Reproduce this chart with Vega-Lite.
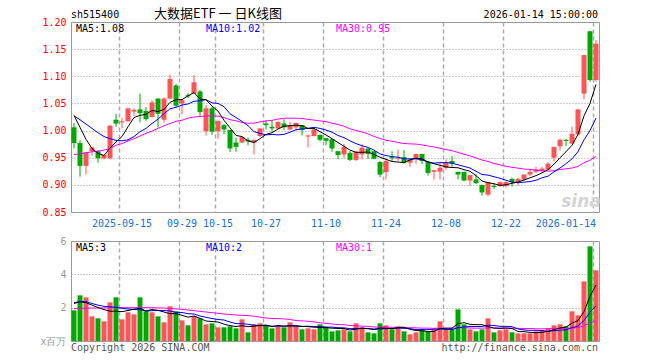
{
 "$schema": "https://vega.github.io/schema/vega-lite/v6.json",
 "padding": {"left": 30, "top": 7, "right": 0, "bottom": 0},
 "background": "white",
 "config": {
  "view": {"stroke": "#999999", "strokeWidth": 1},
  "font": "DejaVu Sans Mono",
  "axis": {"labelFont": "DejaVu Sans Mono", "labelFontSize": 10, "ticks": false, "domain": false, "title": null, "labelOverlap": false}
 },
 "data": {"values": [
  {"d":"2025-09-03","o":1.006,"h":1.014,"l":0.967,"c":0.977,"m5":1.028,"m10":1.027,"m30":0.956,"v":1.84,"vm5":2.25,"vm10":2.30,"vm30":1.95},
  {"d":"2025-09-04","o":0.977,"h":0.982,"l":0.915,"c":0.935,"m5":1.006,"m10":1.020,"m30":0.957,"v":2.74,"vm5":2.35,"vm10":2.38,"vm30":1.96},
  {"d":"2025-09-05","o":0.935,"h":0.961,"l":0.919,"c":0.960,"m5":0.984,"m10":1.012,"m30":0.959,"v":2.62,"vm5":2.30,"vm10":2.36,"vm30":1.97},
  {"d":"2025-09-08","o":0.962,"h":0.970,"l":0.954,"c":0.969,"m5":0.967,"m10":1.004,"m30":0.961,"v":1.48,"vm5":2.15,"vm10":2.25,"vm30":1.98},
  {"d":"2025-09-09","o":0.962,"h":0.964,"l":0.941,"c":0.949,"m5":0.958,"m10":0.996,"m30":0.962,"v":1.36,"vm5":2.01,"vm10":2.15,"vm30":1.98},
  {"d":"2025-09-10","o":0.949,"h":0.956,"l":0.947,"c":0.955,"m5":0.954,"m10":0.989,"m30":0.964,"v":1.18,"vm5":1.88,"vm10":2.08,"vm30":1.98},
  {"d":"2025-09-11","o":0.949,"h":1.010,"l":0.947,"c":1.009,"m5":0.968,"m10":0.985,"m30":0.967,"v":2.32,"vm5":1.79,"vm10":2.05,"vm30":1.99},
  {"d":"2025-09-12","o":1.020,"h":1.031,"l":1.007,"c":1.013,"m5":0.979,"m10":0.982,"m30":0.973,"v":2.62,"vm5":1.79,"vm10":2.02,"vm30":2.00},
  {"d":"2025-09-15","o":1.015,"h":1.023,"l":1.004,"c":1.017,"m5":0.989,"m10":0.981,"m30":0.976,"v":1.30,"vm5":1.76,"vm10":1.96,"vm30":2.00},
  {"d":"2025-09-16","o":1.017,"h":1.041,"l":1.016,"c":1.041,"m5":1.007,"m10":0.983,"m30":0.981,"v":1.72,"vm5":1.83,"vm10":1.92,"vm30":2.00},
  {"d":"2025-09-17","o":1.035,"h":1.041,"l":1.027,"c":1.038,"m5":1.024,"m10":0.989,"m30":0.985,"v":1.60,"vm5":1.91,"vm10":1.89,"vm30":2.00},
  {"d":"2025-09-18","o":1.039,"h":1.068,"l":1.015,"c":1.032,"m5":1.028,"m10":0.998,"m30":0.990,"v":2.62,"vm5":1.97,"vm10":1.88,"vm30":2.00},
  {"d":"2025-09-19","o":1.036,"h":1.043,"l":1.018,"c":1.021,"m5":1.030,"m10":1.004,"m30":0.995,"v":1.78,"vm5":1.80,"vm10":1.80,"vm30":2.00},
  {"d":"2025-09-22","o":1.025,"h":1.056,"l":1.024,"c":1.052,"m5":1.037,"m10":1.013,"m30":0.999,"v":1.72,"vm5":1.89,"vm10":1.82,"vm30":2.00},
  {"d":"2025-09-23","o":1.059,"h":1.059,"l":1.006,"c":1.031,"m5":1.035,"m10":1.021,"m30":1.004,"v":1.48,"vm5":1.84,"vm10":1.83,"vm30":1.99},
  {"d":"2025-09-24","o":1.020,"h":1.061,"l":1.015,"c":1.059,"m5":1.039,"m10":1.031,"m30":1.009,"v":1.12,"vm5":1.74,"vm10":1.83,"vm30":1.98},
  {"d":"2025-09-25","o":1.059,"h":1.103,"l":1.057,"c":1.095,"m5":1.052,"m10":1.040,"m30":1.013,"v":2.08,"vm5":1.64,"vm10":1.80,"vm30":1.96},
  {"d":"2025-09-26","o":1.083,"h":1.086,"l":1.043,"c":1.046,"m5":1.057,"m10":1.043,"m30":1.017,"v":1.78,"vm5":1.64,"vm10":1.72,"vm30":1.93},
  {"d":"2025-09-29","o":1.050,"h":1.058,"l":1.030,"c":1.056,"m5":1.057,"m10":1.047,"m30":1.019,"v":1.24,"vm5":1.54,"vm10":1.71,"vm30":1.90},
  {"d":"2025-09-30","o":1.065,"h":1.069,"l":1.060,"c":1.063,"m5":1.064,"m10":1.049,"m30":1.023,"v":0.94,"vm5":1.43,"vm10":1.64,"vm30":1.86},
  {"d":"2025-10-09","o":1.068,"h":1.102,"l":1.068,"c":1.089,"m5":1.070,"m10":1.054,"m30":1.025,"v":1.48,"vm5":1.50,"vm10":1.62,"vm30":1.82},
  {"d":"2025-10-10","o":1.072,"h":1.075,"l":1.026,"c":1.034,"m5":1.058,"m10":1.055,"m30":1.026,"v":1.36,"vm5":1.36,"vm10":1.50,"vm30":1.78},
  {"d":"2025-10-13","o":0.999,"h":1.047,"l":0.991,"c":1.041,"m5":1.057,"m10":1.057,"m30":1.027,"v":1.00,"vm5":1.20,"vm10":1.42,"vm30":1.74},
  {"d":"2025-10-14","o":1.041,"h":1.044,"l":0.992,"c":0.998,"m5":1.045,"m10":1.051,"m30":1.027,"v":1.06,"vm5":1.17,"vm10":1.35,"vm30":1.70},
  {"d":"2025-10-15","o":0.999,"h":1.018,"l":0.985,"c":1.018,"m5":1.036,"m10":1.050,"m30":1.0265,"v":0.82,"vm5":1.14,"vm10":1.29,"vm30":1.66},
  {"d":"2025-10-16","o":1.010,"h":1.012,"l":0.993,"c":1.002,"m5":1.019,"m10":1.044,"m30":1.024,"v":0.82,"vm5":1.01,"vm10":1.26,"vm30":1.62},
  {"d":"2025-10-17","o":1.001,"h":1.001,"l":0.961,"c":0.967,"m5":1.005,"m10":1.031,"m30":1.020,"v":0.88,"vm5":0.92,"vm10":1.14,"vm30":1.59},
  {"d":"2025-10-20","o":0.978,"h":0.987,"l":0.961,"c":0.970,"m5":0.991,"m10":1.024,"m30":1.018,"v":0.76,"vm5":0.87,"vm10":1.04,"vm30":1.56},
  {"d":"2025-10-21","o":0.978,"h":0.989,"l":0.977,"c":0.988,"m5":0.989,"m10":1.017,"m30":1.015,"v":1.30,"vm5":0.92,"vm10":1.04,"vm30":1.54},
  {"d":"2025-10-22","o":0.983,"h":0.987,"l":0.973,"c":0.980,"m5":0.981,"m10":1.009,"m30":1.0135,"v":0.52,"vm5":0.86,"vm10":1.00,"vm30":1.52},
  {"d":"2025-10-23","o":0.978,"h":0.983,"l":0.956,"c":0.983,"m5":0.978,"m10":0.998,"m30":1.0137,"v":1.00,"vm5":0.89,"vm10":0.95,"vm30":1.49},
  {"d":"2025-10-24","o":0.990,"h":1.004,"l":0.988,"c":1.004,"m5":0.985,"m10":0.995,"m30":1.016,"v":1.06,"vm5":0.93,"vm10":0.92,"vm30":1.43},
  {"d":"2025-10-27","o":1.013,"h":1.019,"l":1.002,"c":1.010,"m5":0.993,"m10":0.992,"m30":1.0177,"v":0.94,"vm5":0.96,"vm10":0.92,"vm30":1.38},
  {"d":"2025-10-28","o":1.007,"h":1.019,"l":0.998,"c":1.004,"m5":0.996,"m10":0.993,"m30":1.0188,"v":0.76,"vm5":0.86,"vm10":0.89,"vm30":1.35},
  {"d":"2025-10-29","o":1.004,"h":1.017,"l":1.003,"c":1.016,"m5":1.003,"m10":0.992,"m30":1.0211,"v":0.88,"vm5":0.93,"vm10":0.89,"vm30":1.34},
  {"d":"2025-10-30","o":1.013,"h":1.021,"l":1.001,"c":1.006,"m5":1.008,"m10":0.993,"m30":1.0228,"v":0.82,"vm5":0.89,"vm10":0.89,"vm30":1.33},
  {"d":"2025-10-31","o":1.002,"h":1.016,"l":1.000,"c":1.010,"m5":1.009,"m10":0.997,"m30":1.0228,"v":1.12,"vm5":0.90,"vm10":0.92,"vm30":1.29},
  {"d":"2025-11-03","o":1.006,"h":1.015,"l":1.000,"c":1.014,"m5":1.010,"m10":1.0015,"m30":1.0228,"v":0.88,"vm5":0.89,"vm10":0.93,"vm30":1.23},
  {"d":"2025-11-04","o":1.010,"h":1.010,"l":0.991,"c":1.001,"m5":1.009,"m10":1.003,"m30":1.0223,"v":0.70,"vm5":0.88,"vm10":0.87,"vm30":1.21},
  {"d":"2025-11-05","o":0.989,"h":0.992,"l":0.969,"c":0.991,"m5":1.004,"m10":1.004,"m30":1.0206,"v":0.76,"vm5":0.86,"vm10":0.89,"vm30":1.18},
  {"d":"2025-11-06","o":0.990,"h":1.003,"l":0.989,"c":1.002,"m5":1.004,"m10":1.006,"m30":1.0194,"v":0.70,"vm5":0.83,"vm10":0.86,"vm30":1.15},
  {"d":"2025-11-07","o":0.992,"h":0.993,"l":0.980,"c":0.983,"m5":0.998,"m10":1.004,"m30":1.0178,"v":1.00,"vm5":0.81,"vm10":0.86,"vm30":1.09},
  {"d":"2025-11-10","o":0.986,"h":0.986,"l":0.973,"c":0.981,"m5":0.992,"m10":1.001,"m30":1.0165,"v":0.82,"vm5":0.80,"vm10":0.84,"vm30":1.06},
  {"d":"2025-11-11","o":0.984,"h":0.985,"l":0.961,"c":0.967,"m5":0.985,"m10":0.997,"m30":1.0136,"v":0.58,"vm5":0.77,"vm10":0.83,"vm30":1.02},
  {"d":"2025-11-12","o":0.962,"h":0.962,"l":0.947,"c":0.955,"m5":0.978,"m10":0.991,"m30":1.0111,"v":0.64,"vm5":0.75,"vm10":0.80,"vm30":0.99},
  {"d":"2025-11-13","o":0.956,"h":0.975,"l":0.949,"c":0.970,"m5":0.971,"m10":0.987,"m30":1.0081,"v":0.70,"vm5":0.75,"vm10":0.79,"vm30":0.98},
  {"d":"2025-11-14","o":0.959,"h":0.962,"l":0.944,"c":0.946,"m5":0.964,"m10":0.981,"m30":1.0032,"v":0.58,"vm5":0.66,"vm10":0.74,"vm30":0.93},
  {"d":"2025-11-17","o":0.946,"h":0.962,"l":0.944,"c":0.961,"m5":0.960,"m10":0.976,"m30":1.0003,"v":1.06,"vm5":0.71,"vm10":0.75,"vm30":0.91},
  {"d":"2025-11-18","o":0.956,"h":0.975,"l":0.947,"c":0.9685,"m5":0.960,"m10":0.972,"m30":0.9974,"v":0.82,"vm5":0.76,"vm10":0.77,"vm30":0.89},
  {"d":"2025-11-19","o":0.967,"h":0.967,"l":0.948,"c":0.957,"m5":0.9605,"m10":0.969,"m30":0.9939,"v":0.52,"vm5":0.74,"vm10":0.74,"vm30":0.88},
  {"d":"2025-11-20","o":0.962,"h":0.962,"l":0.947,"c":0.948,"m5":0.956,"m10":0.964,"m30":0.9892,"v":0.46,"vm5":0.69,"vm10":0.72,"vm30":0.84},
  {"d":"2025-11-21","o":0.942,"h":0.944,"l":0.914,"c":0.919,"m5":0.951,"m10":0.957,"m30":0.9854,"v":1.06,"vm5":0.78,"vm10":0.72,"vm30":0.83},
  {"d":"2025-11-24","o":0.9235,"h":0.949,"l":0.910,"c":0.944,"m5":0.947,"m10":0.954,"m30":0.9821,"v":0.94,"vm5":0.76,"vm10":0.74,"vm30":0.83},
  {"d":"2025-11-25","o":0.951,"h":0.962,"l":0.944,"c":0.949,"m5":0.943,"m10":0.952,"m30":0.9805,"v":0.70,"vm5":0.74,"vm10":0.75,"vm30":0.82},
  {"d":"2025-11-26","o":0.948,"h":0.965,"l":0.944,"c":0.950,"m5":0.942,"m10":0.951,"m30":0.9782,"v":0.88,"vm5":0.81,"vm10":0.77,"vm30":0.82},
  {"d":"2025-11-27","o":0.951,"h":0.964,"l":0.939,"c":0.941,"m5":0.941,"m10":0.948,"m30":0.9762,"v":0.58,"vm5":0.83,"vm10":0.76,"vm30":0.81},
  {"d":"2025-11-28","o":0.941,"h":0.947,"l":0.933,"c":0.947,"m5":0.946,"m10":0.948,"m30":0.9755,"v":0.40,"vm5":0.70,"vm10":0.74,"vm30":0.80},
  {"d":"2025-12-01","o":0.949,"h":0.957,"l":0.939,"c":0.957,"m5":0.949,"m10":0.948,"m30":0.9751,"v":0.52,"vm5":0.62,"vm10":0.69,"vm30":0.79},
  {"d":"2025-12-02","o":0.957,"h":0.957,"l":0.938,"c":0.944,"m5":0.948,"m10":0.946,"m30":0.9736,"v":0.70,"vm5":0.62,"vm10":0.68,"vm30":0.77},
  {"d":"2025-12-03","o":0.943,"h":0.943,"l":0.917,"c":0.922,"m5":0.942,"m10":0.942,"m30":0.9717,"v":0.58,"vm5":0.56,"vm10":0.68,"vm30":0.77},
  {"d":"2025-12-04","o":0.924,"h":0.927,"l":0.910,"c":0.927,"m5":0.939,"m10":0.940,"m30":0.9698,"v":0.70,"vm5":0.58,"vm10":0.71,"vm30":0.76},
  {"d":"2025-12-05","o":0.9245,"h":0.941,"l":0.910,"c":0.9315,"m5":0.936,"m10":0.941,"m30":0.9674,"v":1.18,"vm5":0.74,"vm10":0.72,"vm30":0.77},
  {"d":"2025-12-08","o":0.9315,"h":0.947,"l":0.928,"c":0.941,"m5":0.933,"m10":0.941,"m30":0.9651,"v":0.70,"vm5":0.77,"vm10":0.69,"vm30":0.76},
  {"d":"2025-12-09","o":0.944,"h":0.953,"l":0.933,"c":0.939,"m5":0.932,"m10":0.940,"m30":0.9629,"v":0.70,"vm5":0.77,"vm10":0.69,"vm30":0.76},
  {"d":"2025-12-10","o":0.924,"h":0.924,"l":0.910,"c":0.919,"m5":0.9315,"m10":0.937,"m30":0.9597,"v":1.90,"vm5":1.04,"vm10":0.80,"vm30":0.79},
  {"d":"2025-12-11","o":0.924,"h":0.924,"l":0.907,"c":0.908,"m5":0.928,"m10":0.934,"m30":0.9564,"v":1.00,"vm5":1.10,"vm10":0.84,"vm30":0.80},
  {"d":"2025-12-12","o":0.908,"h":0.918,"l":0.898,"c":0.918,"m5":0.925,"m10":0.931,"m30":0.9534,"v":0.70,"vm5":1.00,"vm10":0.87,"vm30":0.78},
  {"d":"2025-12-15","o":0.910,"h":0.919,"l":0.902,"c":0.903,"m5":0.917,"m10":0.925,"m30":0.9497,"v":0.58,"vm5":0.98,"vm10":0.87,"vm30":0.77},
  {"d":"2025-12-16","o":0.900,"h":0.900,"l":0.880,"c":0.886,"m5":0.907,"m10":0.919,"m30":0.9458,"v":0.70,"vm5":0.98,"vm10":0.87,"vm30":0.77},
  {"d":"2025-12-17","o":0.882,"h":0.905,"l":0.879,"c":0.905,"m5":0.904,"m10":0.918,"m30":0.9430,"v":1.36,"vm5":0.87,"vm10":0.95,"vm30":0.79},
  {"d":"2025-12-18","o":0.898,"h":0.903,"l":0.892,"c":0.896,"m5":0.902,"m10":0.915,"m30":0.9395,"v":0.52,"vm5":0.77,"vm10":0.93,"vm30":0.79},
  {"d":"2025-12-19","o":0.898,"h":0.906,"l":0.896,"c":0.905,"m5":0.899,"m10":0.912,"m30":0.9369,"v":0.64,"vm5":0.76,"vm10":0.88,"vm30":0.77},
  {"d":"2025-12-22","o":0.898,"h":0.907,"l":0.895,"c":0.905,"m5":0.900,"m10":0.9085,"m30":0.9343,"v":0.70,"vm5":0.78,"vm10":0.88,"vm30":0.77},
  {"d":"2025-12-23","o":0.911,"h":0.913,"l":0.897,"c":0.905,"m5":0.903,"m10":0.905,"m30":0.9323,"v":0.52,"vm5":0.75,"vm10":0.86,"vm30":0.77},
  {"d":"2025-12-24","o":0.905,"h":0.913,"l":0.899,"c":0.911,"m5":0.905,"m10":0.904,"m30":0.9308,"v":0.46,"vm5":0.57,"vm10":0.72,"vm30":0.76},
  {"d":"2025-12-25","o":0.910,"h":0.919,"l":0.907,"c":0.919,"m5":0.909,"m10":0.905,"m30":0.9291,"v":0.46,"vm5":0.56,"vm10":0.66,"vm30":0.75},
  {"d":"2025-12-26","o":0.919,"h":0.928,"l":0.916,"c":0.924,"m5":0.913,"m10":0.906,"m30":0.9284,"v":0.46,"vm5":0.52,"vm10":0.64,"vm30":0.75},
  {"d":"2025-12-29","o":0.924,"h":0.933,"l":0.922,"c":0.928,"m5":0.917,"m10":0.9085,"m30":0.9273,"v":0.58,"vm5":0.50,"vm10":0.64,"vm30":0.73},
  {"d":"2025-12-30","o":0.926,"h":0.933,"l":0.923,"c":0.930,"m5":0.922,"m10":0.913,"m30":0.9260,"v":0.64,"vm5":0.52,"vm10":0.63,"vm30":0.73},
  {"d":"2025-12-31","o":0.928,"h":0.942,"l":0.928,"c":0.939,"m5":0.928,"m10":0.916,"m30":0.9254,"v":0.76,"vm5":0.58,"vm10":0.57,"vm30":0.74},
  {"d":"2026-01-05","o":0.950,"h":0.970,"l":0.943,"c":0.970,"m5":0.938,"m10":0.924,"m30":0.9261,"v":0.94,"vm5":0.68,"vm10":0.62,"vm30":0.75},
  {"d":"2026-01-06","o":0.971,"h":0.985,"l":0.963,"c":0.983,"m5":0.950,"m10":0.931,"m30":0.9283,"v":1.00,"vm5":0.78,"vm10":0.65,"vm30":0.75},
  {"d":"2026-01-07","o":0.983,"h":0.984,"l":0.971,"c":0.981,"m5":0.961,"m10":0.939,"m30":0.9295,"v":0.88,"vm5":0.84,"vm10":0.67,"vm30":0.75},
  {"d":"2026-01-08","o":0.976,"h":1.007,"l":0.976,"c":0.994,"m5":0.973,"m10":0.948,"m30":0.9310,"v":1.78,"vm5":1.07,"vm10":0.80,"vm30":0.78},
  {"d":"2026-01-09","o":0.993,"h":1.040,"l":0.991,"c":1.039,"m5":0.993,"m10":0.961,"m30":0.9340,"v":1.54,"vm5":1.23,"vm10":0.90,"vm30":0.81},
  {"d":"2026-01-12","o":1.068,"h":1.140,"l":1.058,"c":1.139,"m5":1.027,"m10":0.983,"m30":0.9406,"v":3.58,"vm5":1.76,"vm10":1.22,"vm30":0.91},
  {"d":"2026-01-13","o":1.183,"h":1.183,"l":1.090,"c":1.093,"m5":1.050,"m10":1.000,"m30":0.9455,"v":5.68,"vm5":2.69,"vm10":1.74,"vm30":1.08},
  {"d":"2026-01-14","o":1.093,"h":1.167,"l":1.090,"c":1.160,"m5":1.085,"m10":1.023,"m30":0.9523,"v":4.24,"vm5":3.36,"vm10":2.10,"vm30":1.21}
 ]},
 "spacing": 29,
 "bounds": "flush",
 "resolve": {"scale": {"y": "independent"}},
 "vconcat": [
  {
   "width": 528, "height": 190,
   "layer": [
    {"mark": {"type": "rule", "strokeWidth": 1},
     "encoding": {
      "x": {"field": "d", "type": "ordinal", "scale": {"paddingInner": 0, "paddingOuter": 0},
       "axis": {"values": ["2025-09-15","2025-09-29","2025-10-15","2025-10-27","2025-11-10","2025-11-24","2025-12-08","2025-12-22","2026-01-14"],
        "bandPosition": 0, "grid": true, "gridColor": "#aaaaaa", "gridDash": [4,3], "gridWidth": 1.5,
        "labelColor": "#1a6fcf", "labelPadding": 6, "labelAngle": 0, "labelOverlap": false, "labelFlush": false,
        "labelExpr": "datum.value == '2025-09-15' || datum.value == '2026-01-14' ? datum.value : slice(datum.value, 5)",
        "labelAlign": {"condition": {"test": "datum.value == '2026-01-14'", "value": "right"}, "value": "center"}}},
      "y": {"field": "l", "type": "quantitative", "scale": {"domain": [0.85, 1.2], "zero": false, "nice": false},
       "axis": {"values": [0.85,0.9,0.95,1.0,1.05,1.1,1.15,1.2], "tickCount": 20, "format": ".2f", "labelColor": "#ff0000", "labelOverlap": false, "labelFlush": false,
        "grid": true, "gridColor": "#999999", "gridDash": [1,2], "labelPadding": 5, "minExtent": 40, "maxExtent": 40}},
      "y2": {"field": "h"},
      "color": {"condition": {"test": "datum.c >= datum.o", "value": "#ff5555"}, "value": "#00a600"}
     }},
    {"mark": {"type": "bar", "width": 5},
     "encoding": {
      "x": {"field": "d", "type": "ordinal"},
      "y": {"field": "o", "type": "quantitative"},
      "y2": {"field": "c"},
      "color": {"condition": {"test": "datum.c >= datum.o", "value": "#ff5555"}, "value": "#00a600"}
     }},
    {"mark": {"type": "line", "color": "#ff00ff", "strokeWidth": 1},
     "encoding": {"x": {"field": "d", "type": "ordinal"}, "y": {"field": "m30", "type": "quantitative"}}},
    {"mark": {"type": "line", "color": "#0000ff", "strokeWidth": 1},
     "encoding": {"x": {"field": "d", "type": "ordinal"}, "y": {"field": "m10", "type": "quantitative"}}},
    {"mark": {"type": "line", "color": "#000000", "strokeWidth": 1},
     "encoding": {"x": {"field": "d", "type": "ordinal"}, "y": {"field": "m5", "type": "quantitative"}}},
    {"data": {"values": [{"t": "sina"}]},
     "mark": {"type": "text", "align": "center", "baseline": "middle", "fontSize": 17, "fontStyle": "italic", "fontWeight": "bold", "font": "DejaVu Sans", "color": "#d4d4d4"},
     "encoding": {"x": {"datum": "2026-01-09", "type": "ordinal", "bandPosition": 1}, "y": {"datum": 0.868, "type": "quantitative"}, "text": {"field": "t"}}},
    {"data": {"values": [{"t": "sh515400"}]},
     "mark": {"type": "text", "align": "left", "baseline": "top", "dy": -12, "fontSize": 10, "color": "#000000"},
     "encoding": {"x": {"datum": "2025-09-03", "type": "ordinal", "bandPosition": 0}, "y": {"datum": 1.2, "type": "quantitative"}, "text": {"field": "t"}}},
    {"data": {"values": [{"t": "大数据ETF 一 日K线图"}]},
     "mark": {"type": "text", "align": "center", "baseline": "top", "dy": -14, "fontSize": 13, "font": "Noto Sans CJK SC", "color": "#000000"},
     "encoding": {"x": {"datum": "2025-10-15", "type": "ordinal", "bandPosition": 0.5}, "y": {"datum": 1.2, "type": "quantitative"}, "text": {"field": "t"}}},
    {"data": {"values": [{"t": "2026-01-14 15:00:00"}]},
     "mark": {"type": "text", "align": "right", "baseline": "top", "dy": -12, "dx": -1, "fontSize": 10, "color": "#000000"},
     "encoding": {"x": {"datum": "2026-01-14", "type": "ordinal", "bandPosition": 1}, "y": {"datum": 1.2, "type": "quantitative"}, "text": {"field": "t"}}},
    {"data": {"values": [{"t": "MA5:1.08"}]},
     "mark": {"type": "text", "align": "left", "baseline": "top", "dy": 2, "dx": 5, "fontSize": 10, "color": "#000000"},
     "encoding": {"x": {"datum": "2025-09-03", "type": "ordinal", "bandPosition": 0}, "y": {"datum": 1.2, "type": "quantitative"}, "text": {"field": "t"}}},
    {"data": {"values": [{"t": "MA10:1.02"}]},
     "mark": {"type": "text", "align": "left", "baseline": "top", "dy": 2, "dx": 3, "fontSize": 10, "color": "#0000ff"},
     "encoding": {"x": {"datum": "2025-10-13", "type": "ordinal", "bandPosition": 0}, "y": {"datum": 1.2, "type": "quantitative"}, "text": {"field": "t"}}},
    {"data": {"values": [{"t": "MA30:0.95"}]},
     "mark": {"type": "text", "align": "left", "baseline": "top", "dy": 2, "dx": 1, "fontSize": 10, "color": "#ff00ff"},
     "encoding": {"x": {"datum": "2025-11-12", "type": "ordinal", "bandPosition": 0}, "y": {"datum": 1.2, "type": "quantitative"}, "text": {"field": "t"}}}
   ]
  },
  {
   "width": 528, "height": 100,
   "layer": [
    {"mark": {"type": "bar", "width": 5},
     "encoding": {
      "x": {"field": "d", "type": "ordinal", "scale": {"paddingInner": 0, "paddingOuter": 0},
       "axis": {"values": ["2025-09-15","2025-09-29","2025-10-15","2025-10-27","2025-11-10","2025-11-24","2025-12-08","2025-12-22","2026-01-14"],
        "bandPosition": 0, "grid": true, "gridColor": "#aaaaaa", "gridDash": [4,3], "gridWidth": 1.5, "labels": false}},
      "y": {"field": "v", "type": "quantitative", "scale": {"domain": [0, 6], "nice": false},
       "axis": {"values": [0,2,4,6], "tickCount": 10, "labelColor": "#999999", "labelExpr": "datum.value == 0 ? 'x百万' : datum.value", "labelOverlap": false, "labelFlush": false,
        "grid": true, "gridColor": "#999999", "gridDash": [1,2], "labelPadding": 5, "minExtent": 40, "maxExtent": 40}},
      "color": {"condition": {"test": "datum.c >= datum.o", "value": "#ff5555"}, "value": "#00a600"}
     }},
    {"mark": {"type": "line", "color": "#ff00ff", "strokeWidth": 1},
     "encoding": {"x": {"field": "d", "type": "ordinal"}, "y": {"field": "vm30", "type": "quantitative"}}},
    {"mark": {"type": "line", "color": "#0000ff", "strokeWidth": 1},
     "encoding": {"x": {"field": "d", "type": "ordinal"}, "y": {"field": "vm10", "type": "quantitative"}}},
    {"mark": {"type": "line", "color": "#000000", "strokeWidth": 1},
     "encoding": {"x": {"field": "d", "type": "ordinal"}, "y": {"field": "vm5", "type": "quantitative"}}},
    {"data": {"values": [{"t": "MA5:3"}]},
     "mark": {"type": "text", "align": "left", "baseline": "top", "dy": 2, "dx": 5, "fontSize": 10, "color": "#000000"},
     "encoding": {"x": {"datum": "2025-09-03", "type": "ordinal", "bandPosition": 0}, "y": {"datum": 6, "type": "quantitative"}, "text": {"field": "t"}}},
    {"data": {"values": [{"t": "MA10:2"}]},
     "mark": {"type": "text", "align": "left", "baseline": "top", "dy": 2, "dx": 3, "fontSize": 10, "color": "#0000ff"},
     "encoding": {"x": {"datum": "2025-10-13", "type": "ordinal", "bandPosition": 0}, "y": {"datum": 6, "type": "quantitative"}, "text": {"field": "t"}}},
    {"data": {"values": [{"t": "MA30:1"}]},
     "mark": {"type": "text", "align": "left", "baseline": "top", "dy": 2, "dx": 1, "fontSize": 10, "color": "#ff00ff"},
     "encoding": {"x": {"datum": "2025-11-12", "type": "ordinal", "bandPosition": 0}, "y": {"datum": 6, "type": "quantitative"}, "text": {"field": "t"}}},
    {"data": {"values": [{"t": "Copyright 2026 SINA.COM"}]},
     "mark": {"type": "text", "align": "left", "baseline": "top", "dy": 2, "fontSize": 10, "color": "#555555"},
     "encoding": {"x": {"datum": "2025-09-03", "type": "ordinal", "bandPosition": 0}, "y": {"datum": 0, "type": "quantitative"}, "text": {"field": "t"}}},
    {"data": {"values": [{"t": "http://finance.sina.com.cn"}]},
     "mark": {"type": "text", "align": "right", "baseline": "top", "dy": 2, "dx": -1, "fontSize": 10, "color": "#555555"},
     "encoding": {"x": {"datum": "2026-01-14", "type": "ordinal", "bandPosition": 1}, "y": {"datum": 0, "type": "quantitative"}, "text": {"field": "t"}}}
   ]
  }
 ]
}
